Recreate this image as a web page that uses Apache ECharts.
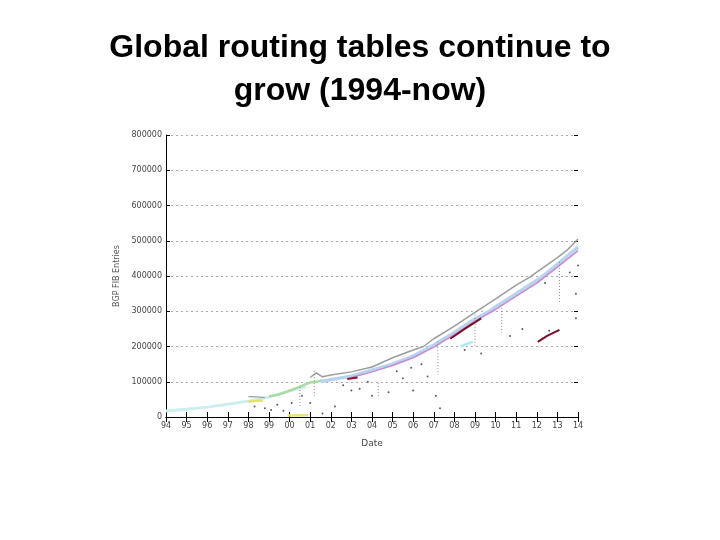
<!DOCTYPE html>
<html><head><meta charset="utf-8">
<script src="https://cdn.jsdelivr.net/npm/echarts@6/dist/echarts.min.js"></script>
<style>html,body{margin:0;padding:0;background:#fff}#c{width:720px;height:540px}</style>
</head><body><div id="c"></div>
<script>
// ---- data (year as decimal, value = active BGP entries) ----
var yTicks = [0, 100000, 200000, 300000, 400000, 500000, 600000, 700000, 800000];
var xTickYears = [1994,1995,1996,1997,1998,1999,2000,2001,2002,2003,2004,2005,2006,2007,2008,2009,2010,2011,2012,2013,2014];

var greyTop = [[2001.0,112000],[2001.3,125000],[2001.6,114000],[2002,119000],[2003,128000],[2004,142000],[2005,168000],[2006,190000],[2006.5,200000],[2007,222000],[2008,258000],[2009,297000],[2010,335000],[2011,374000],[2011.7,398000],[2012,411000],[2013,452000],[2013.5,475000],[2014,505000]];
var greyEarly = [[1998.0,58000],[1998.4,57000],[1998.8,55000]];
var earlyCyan = [[1994,17000],[1995,22000],[1996,28000],[1997,36000],[1998,45000],[1999,57000],[2000,74000],[2000.8,86000]];
var greenSeg = [[1999,58000],[1999.5,64000],[2000,75000],[2000.5,86000],[2001,98000],[2001.3,100000],[2001.6,104000]];
var blueBundle = [[2001.5,100000],[2002,106000],[2003,116000],[2004,133000],[2005,150000],[2006,173000],[2007,204000],[2008,240000],[2009,278000],[2009.7,300000],[2010,312000],[2011,350000],[2012,388000],[2012.3,400000],[2013,433000],[2014,482000]];
var purpleLine = [[2003,112000],[2004,128000],[2005,146000],[2006,168000],[2007,198000],[2008,234000],[2009,272000],[2010,305000],[2011,343000],[2012,380000],[2013,425000],[2014,472000]];
var darkRed1 = [[2002.8,108000],[2003.3,112000]];
var darkRed2 = [[2007.8,222000],[2008.5,250000],[2009.3,280000]];
var darkRed3 = [[2012.05,213000],[2012.5,230000],[2013.1,247000]];
var cyanLow = [[2008.3,200000],[2008.9,214000]];
var yellow1 = [[1998.0,44000],[1998.7,47000]];
var yellow2 = [[1999.9,4000],[2000.9,5000]];
var drops = [[2013.1,440000],[2013.1,323000],[2013.1,'-'],[2004.3,96000],[2004.3,54000],[2004.3,'-'],[2009.0,290000],[2009.0,200000],[2009.0,'-'],[2001.2,130000],[2001.2,60000],[2001.2,'-'],[2007.2,215000],[2007.2,120000],[2007.2,'-'],[2010.3,318000],[2010.3,240000],[2010.3,'-'],[2000.5,85000],[2000.5,30000]];
var dots = [[1998.3,30000],[1998.8,25000],[1999.1,20000],[1999.4,35000],[1999.7,18000],[2000.1,40000],[2000.6,60000],[2001.0,40000],[2001.6,10000],[2002.2,30000],[2003.0,75000],[2003.4,80000],[2004.8,70000],[2005.5,110000],[2006.0,75000],[2006.7,115000],[2007.1,60000],[2007.3,25000],[2008.5,190000],[2009.3,180000],[2010.7,230000],[2011.3,250000],[2012.6,245000],[2013.9,280000],[2013.9,350000],[2014.0,430000],[2013.6,410000],[2012.4,380000],[2003.8,100000],[2005.2,130000],[2006.4,150000],[2002.6,90000],[2004.0,60000],[2005.9,140000]];

var chart = echarts.init(document.getElementById('c'), null, {renderer:'canvas'});
function yy(v){ var s = String(Math.round(v) % 100); return s.length < 2 ? '0' + s : s; }
function ln(name, data, color, w, type){
  return {name:name, type:'line', data:data, symbol:'none', silent:true,
    lineStyle:{color:color, width:w||1.5, type:type||'solid'}, connectNulls:false, z:3};
}
chart.setOption({
  animation:false,
  backgroundColor:'#ffffff',
  title:{text:'Global routing tables continue to\ngrow (1994-now)', left:'center', top:22,
    textStyle:{fontFamily:'Liberation Sans, Arial, sans-serif', fontSize:32, fontWeight:'bold', color:'#000', lineHeight:43}},
  grid:{left:166, right:142, top:135, bottom:123, containLabel:false},
  xAxis:[{type:'value', min:1994, max:2014, interval:1,
    name:'Date', nameLocation:'middle', nameGap:22,
    nameTextStyle:{fontSize:9, color:'#444', fontFamily:'DejaVu Sans'},
    axisLine:{show:true, lineStyle:{color:'#000', width:1}},
    axisTick:{show:true, inside:true, length:5, lineStyle:{color:'#000'}},
    axisLabel:{formatter:function(v){return yy(v);}, fontSize:8, color:'#444', margin:5, fontFamily:'DejaVu Sans'},
    splitLine:{show:false}},
   {type:'value', position:'top', min:1994, max:2014, interval:1,
    axisLine:{show:true, lineStyle:{color:'#000', width:1}},
    axisTick:{show:true, inside:true, length:5, lineStyle:{color:'#000'}},
    axisLabel:{show:false}, splitLine:{show:false}}],
  yAxis:[{type:'value', min:0, max:800000, interval:100000,
    name:'BGP FIB Entries', nameLocation:'middle', nameGap:38, nameRotate:90,
    nameTextStyle:{fontSize:8, color:'#555', fontFamily:'DejaVu Sans'},
    axisLine:{show:true, lineStyle:{color:'#000', width:1}},
    axisTick:{show:true, inside:true, length:4, lineStyle:{color:'#000'}},
    axisLabel:{formatter:function(v){return String(v);}, fontSize:8, color:'#444', margin:4, fontFamily:'DejaVu Sans'},
    splitLine:{show:true, lineStyle:{color:'#aaa', type:[2,3], width:1}}},
   {type:'value', position:'right', min:0, max:800000, interval:100000,
    axisLine:{show:false},
    axisTick:{show:true, inside:true, length:4, lineStyle:{color:'#000'}},
    axisLabel:{show:false}, splitLine:{show:false}}],
  series:[
    ln('earlyCyan', earlyCyan, '#cdeef0', 3),
    ln('greenSeg', greenSeg, '#a8dca0', 2.5),
    ln('yellow1', yellow1, '#e6e070', 2.5),
    ln('yellow2', yellow2, '#ece27a', 2.5),
    ln('greyEarly', greyEarly, '#9a9a9a', 1.2),
    ln('blueBundle', blueBundle, '#b8d4ec', 3.5),
    ln('purpleLine', purpleLine, '#c88ad6', 1.5),
    ln('greyTop', greyTop, '#9c9c9c', 1.5),
    ln('cyanLow', cyanLow, '#a8ecec', 2.5),
    ln('darkRed1', darkRed1, '#8a1030', 2),
    ln('darkRed2', darkRed2, '#7a1028', 2),
    ln('darkRed3', darkRed3, '#7a1028', 2),
    ln('drops', drops, '#888', 1, [1,2]),
    {name:'dots', type:'scatter', data:dots, symbolSize:2, silent:true,
      itemStyle:{color:'#333'}, z:4}
  ]
});
</script></body></html>
